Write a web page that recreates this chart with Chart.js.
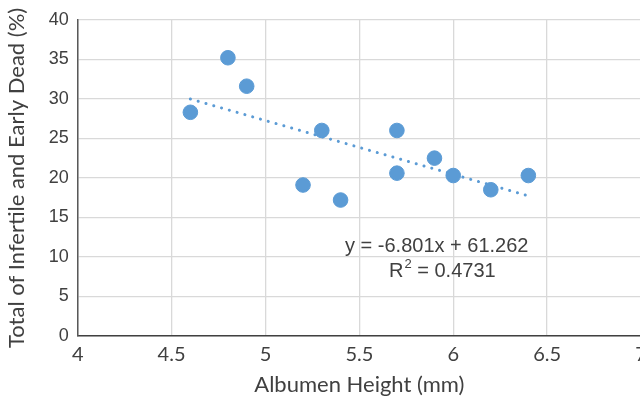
<!DOCTYPE html>
<html>
<head>
<meta charset="utf-8">
<script src="https://cdn.jsdelivr.net/npm/chart.js@4.4.1/dist/chart.umd.min.js"></script>
<style>
  html, body { margin: 0; padding: 0; overflow: hidden; background: #fff; }
  #wrap { width: 670px; height: 401px; }
</style>
</head>
<body>
<div id="wrap"><canvas id="chart"></canvas></div>
<script>
// albumen height (mm) vs total infertile + early dead (%)
const albumenHeight = [4.6, 4.8, 4.9, 5.2, 5.3, 5.4, 5.7, 5.7, 5.9, 6.0, 6.2, 6.4];
const infertileDead = [28.3, 35.2, 31.6, 19.1, 26.0, 17.2, 26.0, 20.6, 22.5, 20.3, 18.5, 20.3];

// linear trendline end points
const trendX = [4.6, 6.4];
const trendY = [29.98, 17.73];

const xTicks = [4, 4.5, 5, 5.5, 6, 6.5, 7];
const yTicks = [0, 5, 10, 15, 20, 25, 30, 35, 40];

const equationText = "y = -6.801x + 61.262";
const rSquaredText = "0.4731";

const blue = "#5b9bd5";

const equationPlugin = {
  id: "equation",
  afterDatasetsDraw(chart) {
    const ctx = chart.ctx;
    ctx.save();
    ctx.fillStyle = "#404040";
    ctx.textBaseline = "alphabetic";
    ctx.font = "20px 'Liberation Sans', Arial, sans-serif";
    ctx.textAlign = "left";
    ctx.fillText(equationText, 345, 252);
    // R² line
    let x = 389;
    ctx.fillText("R", x, 277);
    x += ctx.measureText("R").width;
    ctx.font = "13px 'Liberation Sans', Arial, sans-serif";
    ctx.fillText("2", x + 1, 268);
    x += ctx.measureText("2").width + 1;
    ctx.font = "20px 'Liberation Sans', Arial, sans-serif";
    ctx.fillText(" = " + rSquaredText, x, 277);
    ctx.restore();
  }
};

const data = {
  datasets: [
    {
      label: "Infertile and Early Dead",
      data: albumenHeight.map((x, i) => ({ x: x, y: infertileDead[i] })),
      backgroundColor: blue,
      borderColor: blue,
      pointRadius: 7.3,
      pointHoverRadius: 7.3,
      showLine: false,
      order: 1,
    },
    {
      label: "Linear trend",
      data: trendX.map((x, i) => ({ x: x, y: trendY[i] })),
      type: "line",
      borderColor: blue,
      borderWidth: 3,
      borderDash: [0.1, 8],
      borderCapStyle: "round",
      pointRadius: 0,
      fill: false,
      order: 2,
    },
  ],
};

const config = {
  type: "scatter",
  data: data,
  options: {
    responsive: true,
    maintainAspectRatio: false,
    animation: false,
    layout: { padding: { top: 15.5, right: 29, left: 0, bottom: 0 } },
    plugins: {
      legend: { display: false },
      tooltip: { enabled: false },
    },
    scales: {
      x: {
        type: "linear",
        min: 4,
        max: 7,
        afterBuildTicks: (scale) => { scale.ticks = xTicks.map((v) => ({ value: v })); },
        afterFit: (scale) => { scale.height = 65; },
        grid: { color: "#d9d9d9", lineWidth: 1.3, drawTicks: false },
        border: { color: "#404040", width: 1.5 },
        ticks: {
          color: "#404040",
          padding: 7,
          maxRotation: 0,
          callback: (v) => String(v),
          font: { family: "Lato, 'Open Sans', sans-serif", size: 20 },
        },
        title: {
          display: true,
          text: "Albumen Height (mm)",
          color: "#404040",
          padding: { top: 0, bottom: 3 },
          font: { family: "Lato, 'Open Sans', sans-serif", size: 22 },
        },
      },
      y: {
        min: 0,
        max: 40,
        afterBuildTicks: (scale) => { scale.ticks = yTicks.map((v) => ({ value: v })); },
        afterFit: (scale) => { scale.width = 77.7; },
        grid: { color: "#d9d9d9", lineWidth: 1.3, drawTicks: false },
        border: { color: "#595959", width: 1.5 },
        ticks: {
          color: "#404040",
          padding: 9,
          font: { family: "'Liberation Sans', Arial, sans-serif", size: 18 },
        },
        title: {
          display: true,
          text: "Total of Infertile and Early Dead (%)",
          color: "#404040",
          padding: { top: 4, bottom: 0 },
          font: { family: "Lato, 'Open Sans', sans-serif", size: 22 },
        },
      },
    },
  },
  plugins: [equationPlugin],
};

new Chart(document.getElementById("chart"), config);
</script>
</body>
</html>
